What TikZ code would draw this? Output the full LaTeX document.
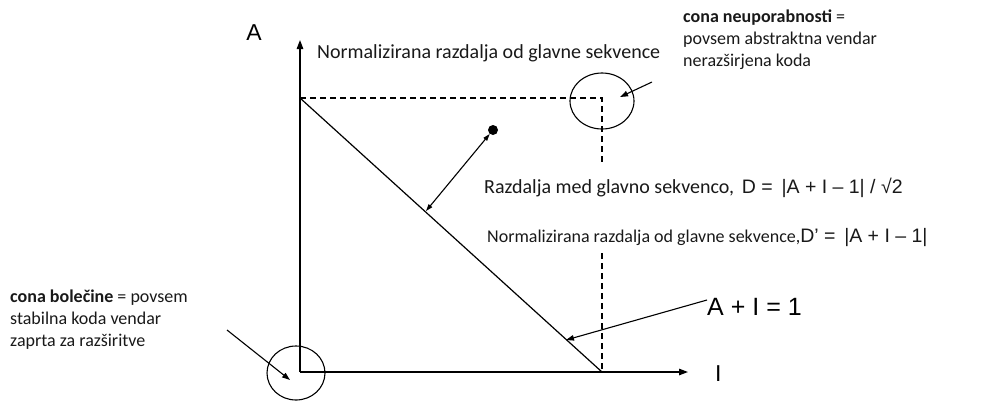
\documentclass[tikz,border=0pt]{standalone}
\usepackage{fontspec}
\setmainfont{Carlito}
\newfontfamily\arial{Liberation Sans}
\usetikzlibrary{arrows.meta,shapes.geometric}
\begin{document}
\begin{tikzpicture}[x=1pt,y=-1pt,
  txt/.style={font=\fontsize{20}{24}\selectfont, text=black!90, inner sep=0pt, align=left},
  zonetxt/.style={font=\fontsize{18}{22}\selectfont, text=black!90, inner sep=0pt, align=left},
  artxt/.style={font=\arial\fontsize{23}{26}\selectfont, inner sep=0pt},
  axisline/.style={line width=1.3pt, -{Triangle[length=9pt,width=6.5pt]}},
  ptr/.style={line width=1.1pt, -{Triangle[length=8pt,width=5.5pt]}},
  dblptr/.style={line width=1.1pt, {Triangle[length=7pt,width=4.5pt]}-{Triangle[length=7pt,width=4.5pt]}},
  guide/.style={line width=1.1pt, dash pattern=on 6pt off 4pt},
  zone/.style={ellipse, draw, line width=1.1pt, inner sep=0pt}]
\useasboundingbox (0,0) rectangle (983,400);
% key points
\coordinate (O) at (300,372);
\coordinate (ytop) at (300,40);
\coordinate (xend) at (688,372);
\coordinate (A1) at (300,98);
\coordinate (I1) at (602,372);
\coordinate (C) at (602,98);
\coordinate (gapTop) at (602,165);
\coordinate (gapBot) at (602,253);
% axes
\draw[axisline] (O) -- (ytop);
\draw[axisline] (O) -- (xend);
% main sequence
\draw[line width=1.2pt] (A1) -- (I1);
% guide lines
\draw[guide] (A1) -- (C) -- (gapTop);
\draw[guide] (gapBot) -- (I1);
% zones
\node[zone, minimum width=64pt, minimum height=56pt] (zu) at (602,101) {};
\node[zone, minimum width=58pt, minimum height=54pt] (zp) at (296,373) {};
% axis labels
\node[artxt] (labA) at (254,33) {A};
\node[artxt, anchor=west] (labI) at (715,374) {I};
% texts
\node[txt, anchor=west] (tnorm) at (317,53) {Normalizirana razdalja od glavne sekvence};
\node[zonetxt, anchor=west] (tuseless) at (683,40) {\textbf{cona neuporabnosti} =\\povsem abstraktna vendar\\nerazširjena koda};
\node[zonetxt, anchor=west] (tpain) at (10,320) {\textbf{cona bolečine} = povsem\\stabilna koda vendar\\zaprta za razširitve};
\node[txt, anchor=west] (tD) at (484,188) {Razdalja med glavno sekvenco, \,{\arial\fontsize{19.5}{24}\selectfont D = \,|A + I – 1| / √2}};
\node[txt, font=\fontsize{18}{22}\selectfont, anchor=west] (tDn) at (487,237) {Normalizirana razdalja od glavne sekvence,{\arial\fontsize{19.5}{24}\selectfont D’ = \,|A + I – 1|}};
\node[artxt, font=\arial\fontsize{25}{28}\selectfont, anchor=west] (teq) at (707,307) {A + I = 1};
% dot and distance arrow
\node[circle, fill=black, inner sep=0pt, minimum size=10pt] (dot) at (493,130) {};
\coordinate (foot) at (426,211);
\draw[dblptr] (dot) -- (foot);
% pointers
\coordinate (eqTail) at (707,300);
\coordinate (eqTip) at (566,340);
\draw[ptr] (eqTail) -- (eqTip);
\coordinate (uTail) at (652,82);
\coordinate (uTip) at (620,97);
\draw[ptr] (uTail) -- (uTip);
\coordinate (pTail) at (227,330);
\coordinate (pTip) at (290,380);
\draw[ptr] (pTail) -- (pTip);
\end{tikzpicture}
\end{document}
